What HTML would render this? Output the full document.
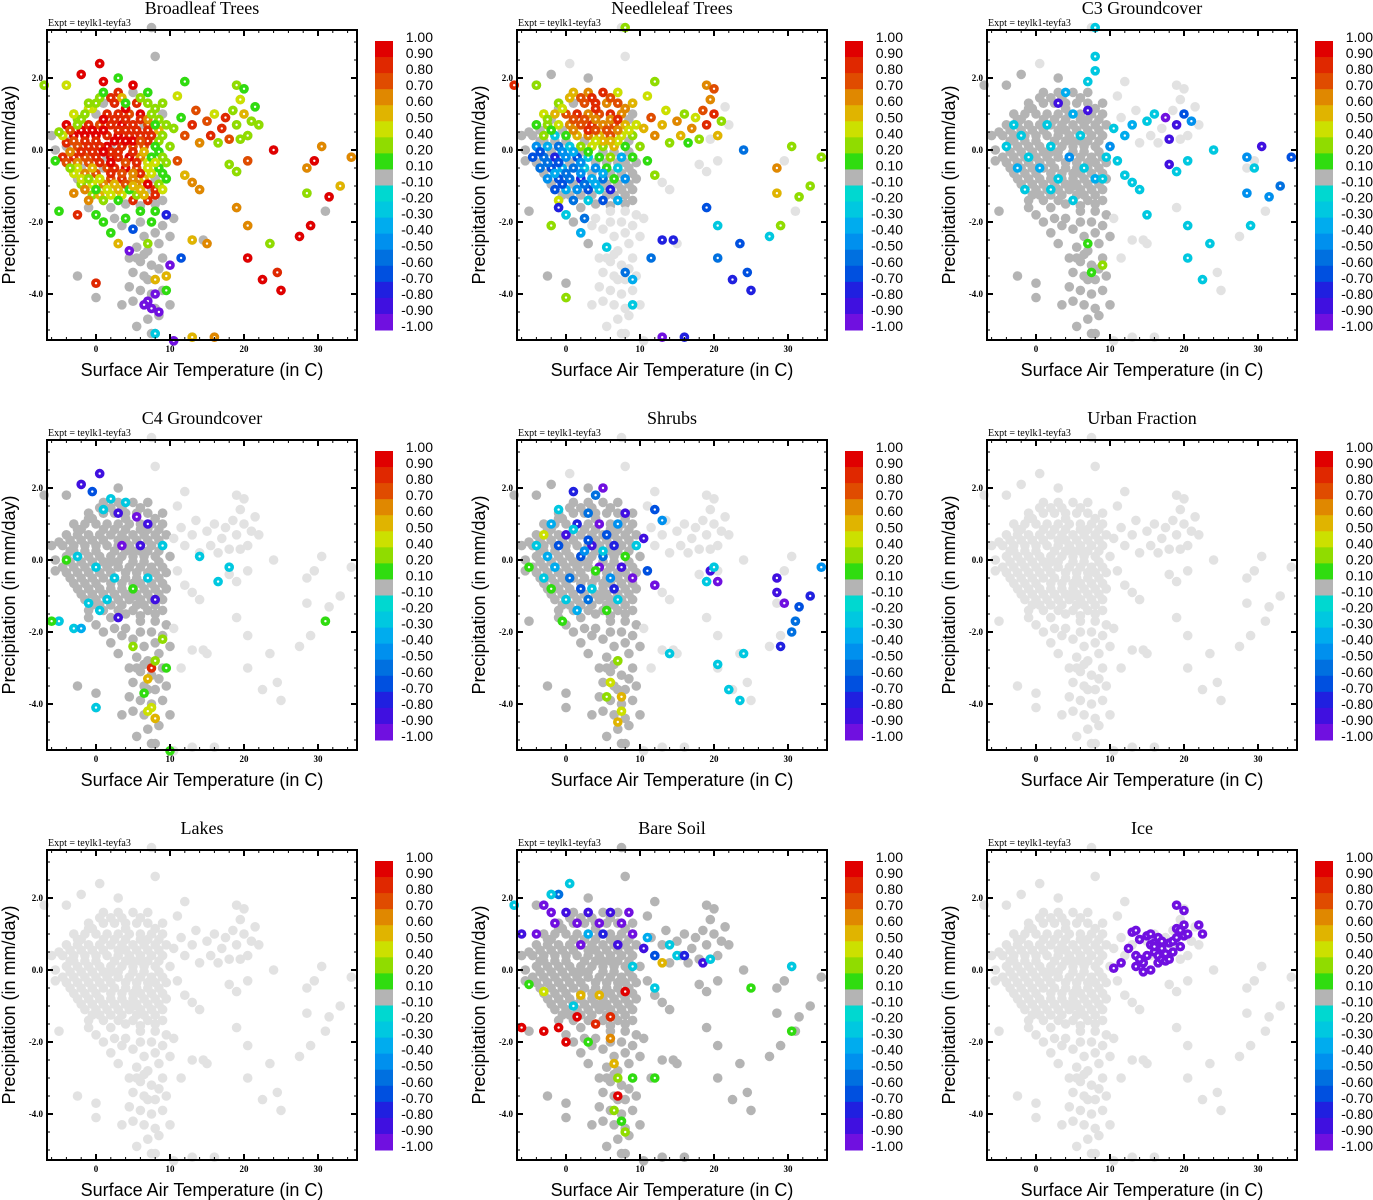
<!DOCTYPE html>
<html><head><meta charset="utf-8"><style>
html,body{margin:0;padding:0;background:#fff;}
svg{display:block;}
.tk{font-family:"Liberation Serif",serif;font-size:9px;font-weight:bold;}
.ttl{font-family:"Liberation Serif",serif;font-size:18px;}
.ax{font-family:"Liberation Sans",sans-serif;font-size:18px;}
.cb{font-family:"Liberation Sans",sans-serif;font-size:14px;}
.ex{font-family:"Liberation Serif",serif;font-size:10px;}
</style></head><body>
<svg id="fig" width="1373" height="1200" viewBox="0 0 1373 1200"></svg>
<script>
const panelTitles=["Broadleaf Trees","Needleleaf Trees","C3 Groundcover","C4 Groundcover","Shrubs","Urban Fraction","Lakes","Bare Soil","Ice"];
const xTickVals=[0,10,20,30];
const xTickLabels=["0","10","20","30"];
const yTickVals=[2,0,-2,-4];
const yTickLabels=["2.0","0.0","-2.0","-4.0"];
const cbLevels=[1,.9,.8,.7,.6,.5,.4,.2,.1,-.1,-.2,-.3,-.4,-.5,-.6,-.7,-.8,-.9,-1];
const cbLabels=["1.00","0.90","0.80","0.70","0.60","0.50","0.40","0.20","0.10","-0.10","-0.20","-0.30","-0.40","-0.50","-0.60","-0.70","-0.80","-0.90","-1.00"];
const cbColors=["#e00000","#e02800","#e04c00","#e08800","#e0b400","#cce000","#90dc00","#30dc10","#b4b4b4","#00d8d0","#00c8e0","#00acee","#0090ee","#0070e0","#0050e0","#2020e0","#4010e0","#7010e0"];
const basePts=[[1,1.6],[3,1.6],[5,1.6],[7,1.6],[-1,1.3],[1,1.3],[2.5,1.3],[4,1.3],[5.5,1.3],[7,1.3],[9,1.3],[-3,1.0],[-1.5,1.0],[0,1.0],[1.5,1.0],[3,1.0],[4.5,1.0],[6,1.0],[7.5,1.0],[9,1.0],[-4,0.7],[-2.5,0.7],[-1,0.7],[0.5,0.7],[2,0.7],[3.5,0.7],[5,0.7],[6.5,0.7],[8,0.7],[9.5,0.7],[-4.5,0.4],[-3,0.4],[-1.5,0.4],[0,0.4],[1.5,0.4],[3,0.4],[4.5,0.4],[6,0.4],[7.5,0.4],[9,0.4],[-4,0.1],[-2.5,0.1],[-1,0.1],[0.5,0.1],[2,0.1],[3.5,0.1],[5,0.1],[6.5,0.1],[8,0.1],[10,0.1],[-4.5,-0.2],[-3,-0.2],[-1.5,-0.2],[0,-0.2],[1.5,-0.2],[3,-0.2],[4.5,-0.2],[6,-0.2],[7.5,-0.2],[9,-0.2],[-3.5,-0.5],[-2,-0.5],[-0.5,-0.5],[1,-0.5],[2.5,-0.5],[4,-0.5],[5.5,-0.5],[7,-0.5],[8.5,-0.5],[-2.5,-0.8],[-1,-0.8],[0.5,-0.8],[2,-0.8],[3.5,-0.8],[5,-0.8],[6.5,-0.8],[8,-0.8],[9.5,-0.8],[-1.5,-1.1],[0,-1.1],[1.5,-1.1],[3,-1.1],[4.5,-1.1],[6,-1.1],[7.5,-1.1],[9,-1.1],[-1,-1.4],[1,-1.4],[3,-1.4],[5,-1.4],[7,-1.4],[9,-1.4],
[2,1.45],[4,1.15],[6,0.85],[1,0.85],[3,0.55],[5,0.25],[2,-0.05],[4,-0.35],[6,-0.65],[1,-0.95],[2.5,0.25],[0.5,-0.35],[3.5,-0.65],[5.5,0.55],[-2,-0.05],[-0.5,0.55],[7,0.25],[8,-0.35],[4,0.85],[2,-1.25],[5,-1.0],[-3.5,0.25],[-2,0.85],[-5,0.5],[-5.5,0.0],
[-0.5,1.15],[0.5,1.45],[3.5,1.45],[6,1.45],[8,1.15],[-2.5,0.85],[-1,1.15],[2.5,0.85],[7,0.85],[8.5,0.85],[-3.5,0.55],[-2,0.55],[1,0.55],[4,0.55],[7,0.55],[8.5,0.55],[-3,0.25],[-1.5,0.25],[0,0.25],[4,0.25],[6,0.25],[8.5,0.25],[-3.5,-0.05],[-0.5,-0.05],[1,-0.05],[3,-0.05],[5,-0.05],[6.5,-0.05],[8.5,-0.05],[-4,-0.35],[-2.5,-0.35],[-1,-0.35],[2,-0.35],[5.5,-0.35],[7,-0.35],[9.5,-0.35],[-3,-0.65],[-1.5,-0.65],[0,-0.65],[2,-0.65],[5,-0.65],[7.5,-0.65],[9,-0.65],[-2,-0.95],[-0.5,-0.95],[2.5,-0.95],[4,-0.95],[5.5,-0.95],[7,-0.95],[8.5,-0.95],[-0.5,-1.25],[0.5,-1.25],[3.5,-1.25],[5.5,-1.25],[6.5,-1.25],[8,-1.25],[4,-1.5],[6,-1.55],[8,-1.5],[2,-1.6],
[6,-1.7],[8,-1.7],[9.5,-1.8],[10.5,-1.9],[7.5,-2.0],[9,-2.1],[5,-2.2],[6.5,-2.4],[8,-2.3],[10,-2.4],[5.5,-2.7],[7,-2.8],[8.5,-2.6],[4.5,-3.0],[6,-3.1],[7.5,-3.2],[9,-3.0],[5,-3.4],[6.5,-3.5],[8,-3.6],[9.5,-3.5],[4.5,-3.8],[6,-3.9],[7.5,-4.0],[9,-3.9],[5,-4.2],[6.5,-4.3],[8,-4.4],[10,-4.3],[7,-4.7],[8.5,-4.6],[5.5,-4.9],[3.5,-4.3],[7.5,-5.1],[0,-1.8],[1,-2.0],[2,-2.3],[3,-2.6],[-1,-1.6],[2.5,-1.9],[-2.5,-3.5],[0,-3.7],[0,-4.1],[-5,-1.7],[3.5,-2.1],[4,-1.9],[6,-2.0],[7,-3.6],[5.5,-3.0],[8.5,-3.3],[6.5,-2.9],
[10.5,0.6],[11.5,0.9],[12,0.4],[13,0.7],[13.5,1.1],[14,0.2],[15,0.8],[15.5,0.4],[16,1.0],[16.5,0.2],[17,0.6],[17.5,0.9],[18,0.3],[18.5,1.1],[19,0.7],[19.5,1.4],[20,1.0],[20.5,0.4],[21,0.8],[21.5,1.2],[22,0.7],[19,1.8],[20,1.7],[18,-0.4],[19,-0.6],[11,-0.3],[12,-0.7],[13,-0.9],[14,-1.1],[11,1.5],[12,1.9],
[24,0.0],[28.5,-0.5],[29.5,-0.3],[30.5,0.1],[33,-1.0],[34.5,-0.2],[31.5,-1.3],[28.5,-1.2],[31,-1.7],[29,-2.1],[27.5,-2.4],[23.5,-2.6],[20.5,-2.1],[19,-1.6],[20.5,-3.0],[22.5,-3.6],[24.5,-3.4],[25,-3.9],[13,-2.5],[15,-2.6],[14.5,-2.5],[11.5,-3.0],[13,-5.2],[16,-5.2],[10.5,-5.3],[8,-5.1],[8,2.6],[7.5,3.4],[3,2.0],[0.5,2.4],[-2,2.1],[-4,1.8],[-7,1.8],[-6,0.4],[-5.5,-0.3],[20.5,-0.3],[19.5,0.3]];
const broadleafPts=[[0,0.4,.95],[1.5,0.4,.85],[3,0.4,.95],[4.5,0.4,.85],[1.5,0.1,.95],[3.5,0.1,.85],[5,0.1,.75],[0.5,0.1,.85],[2,-0.2,.95],[3,-0.2,.85],[4.5,-0.2,.95],[0,-0.2,.85],[1.5,-0.5,.75],[2.5,-0.5,.85],[4,-0.5,.95],[5.5,-0.5,.75],[2,0.7,.85],[3.5,0.7,.95],[5,0.7,.85],[0.5,0.7,.75],[1.5,1.0,.85],[3,1.0,.85],[4.5,1.0,.75],[6,1.0,.95],[2.5,1.3,.85],[5.5,1.3,.85],[-1,0.7,.85],[-1.5,0.4,.95],[-1,0.1,.85],[-2.5,0.1,.75],[-3,0.4,.95],[-4,0.7,.95],[-3,-0.2,.85],[-1.5,-0.2,.75],[6,0.4,.85],[6.5,0.1,.75],[6,-0.2,.65],[7.5,0.4,.85],[7,0.7,.75],[3.5,-0.8,.85],[5,-0.8,.65],[2,-0.8,.75],[6.5,-0.8,.55],[8,-1.1,.85],[7,-1.4,.85],[5,-1.4,.85],[3,1.6,.85],[5,1.8,.95],[1,1.9,.95],[0.5,2.4,.95],[-2,2.1,.95],[-4,0.2,.85],[-4.5,-0.2,.85],[2,1.45,.85],[4,1.15,.95],[6,0.85,.85],[1,0.85,.95],[3,0.55,.85],[5,0.25,.95],[2,-0.05,.85],[4,-0.35,.75],[6,-0.65,.85],[1,-0.95,.65],[2.5,0.25,.95],[0.5,-0.35,.85],[3.5,-0.65,.75],[5.5,0.55,.85],[-2,-0.05,.85],[-0.5,0.55,.95],[7,0.25,.85],[4,0.85,.85],
[2.5,0.85,.85],[1,0.55,.95],[4,0.55,.85],[0,0.25,.85],[4,0.25,.95],[6,0.25,.75],[-0.5,-0.05,.85],[1,-0.05,.95],[3,-0.05,.85],[5,-0.05,.85],[-1,-0.35,.75],[2,-0.35,.95],[5.5,-0.35,.85],[0,-0.65,.75],[2,-0.65,.85],[5,-0.65,.65],[-1.5,0.25,.85],[-3,0.25,.75],[-2.5,-0.35,.65],[3.5,1.45,.55],[-0.5,1.15,.45],[0.5,1.45,.3],[-2.5,0.85,.3],[7,0.85,.65],[8.5,0.85,.3],[-3.5,0.55,.75],[-2,0.55,.95],[7,0.55,.85],[8.5,0.55,.55],[8.5,0.25,.3],[6.5,-0.05,.55],[8.5,-0.05,.15],[-4,-0.35,.75],[7,-0.35,.45],[9.5,-0.35,.3],[-3,-0.65,.45],[-1.5,-0.65,.65],[7.5,-0.65,.45],[9,-0.65,.15],[-2,-0.95,.3],[-0.5,-0.95,.45],[2.5,-0.95,.55],[4,-0.95,.75],[5.5,-0.95,.65],[7,-0.95,.95],[8.5,-0.95,.3],[-0.5,-1.25,.3],[0.5,-1.25,.55],[3.5,-1.25,.45],[5.5,-1.25,.3],[6.5,-1.25,.55],[8,-1.25,.85],[6,1.45,.3],[8,1.15,.3],[-1,1.15,.45],[-3.5,-0.05,.65],
[-3,1.0,.45],[-1.5,1.0,.3],[0,1.3,.3],[1,1.6,.15],[7,1.6,.15],[7.5,1.0,.3],[9,1.3,.3],[8,0.7,.15],[9.5,0.7,.3],[9,0.4,.3],[8,0.1,.15],[10,0.1,.3],[7.5,-0.2,.15],[9,-0.2,.3],[7,-0.5,.45],[8.5,-0.5,.15],[9.5,-0.8,.15],[-2.5,-0.5,.45],[-3.5,-0.5,.3],[-2,-0.8,.45],[-1,-0.8,.3],[0.5,-0.8,.45],[-0.5,-0.5,.55],[0,-1.1,.15],[1.5,-1.1,.45],[3,-1.1,.55],[4.5,-1.1,.15],[6,-1.1,.55],[-1,-1.4,.65],[1,-1.4,.3],[3,-1.4,.15],[9,-1.1,.45],[-1.5,-1.1,.6],[-4,1.8,.45],[-7,1.8,.3],[3,2.0,.15],[-5,-1.7,.15],[-5.5,-0.3,.15],[-2.5,0.7,.3],[-4.5,0.4,.45],[-1,1.3,.3],[4,1.3,.15],[7,1.3,.3],[2,-1.25,.45],[5,-1.0,.55],[8,-0.35,.45],[-2,0.85,.3],[-5,0.5,.3],
[10.5,0.6,.3],[11.5,0.9,.15],[12,0.4,.75],[13,0.7,.85],[13.5,1.1,.75],[14,0.2,.65],[15,0.8,.75],[15.5,0.4,.85],[16,1.0,.45],[16.5,0.2,.3],[17,0.6,.85],[17.5,0.9,.85],[18,0.3,.75],[18.5,1.1,.3],[19,0.7,.3],[19.5,1.4,.45],[20,1.0,.55],[20.5,0.4,.3],[21,0.8,.3],[21.5,1.2,.15],[22,0.7,.3],[19,1.8,.3],[20,1.7,.15],[18,-0.4,.3],[19,-0.6,.3],[11,1.5,.45],[12,1.9,.15],[11,-0.3,.75],[12,-0.7,.55],[13,-0.9,.65],[14,-1.1,.65],[20.5,-0.3,.75],[19.5,0.3,.3],
[24,0.0,.95],[28.5,-0.5,.65],[29.5,-0.3,.95],[30.5,0.1,.65],[33,-1.0,.55],[34.5,-0.2,.65],[31.5,-1.3,.95],[28.5,-1.2,.3],[29,-2.1,.95],[27.5,-2.4,.95],[23.5,-2.6,.3],[20.5,-2.1,.65],[19,-1.6,.65],[20.5,-3.0,.95],[22.5,-3.6,.95],[24.5,-3.4,.85],[25,-3.9,.95],[13,-2.5,.55],[15,-2.6,.65],[13,-5.2,.55],[16,-5.2,.65],[10.5,-5.3,-.95],[8,-5.1,-.25],
[7,-4.2,-.95],[7.5,-4.4,-.95],[8.5,-4.5,-.95],[6.5,-4.3,-.95],[8,-4.0,-.95],[9.5,-3.5,.55],[8,-3.6,.55],[9.5,-3.9,.15],[10,-3.2,-.95],[11.5,-3.0,-.65],[5,-2.2,-.65],[4.5,-2.8,-.95],[7,-2.6,.3],[7.5,-2.0,.15],[2,-2.3,.15],[0,-1.8,.15],[1,-2.0,.15],[3,-2.6,.55],[0,-3.7,.85],[6,-1.7,.15],[8,-1.7,.15],[9.5,-1.8,-.75],[4,-1.9,.15],[-2.5,-1.8,.85],[-3,-1.2,.65]];
const needleleafPts=[[0,1.0,.75],[1.5,1.0,.85],[3,1.0,.65],[4.5,1.0,.75],[6,1.0,.85],[7.5,1.0,.65],[9,1.3,.55],[2.5,1.3,.75],[4,1.3,.85],[5.5,1.3,.65],[7,1.3,.75],[1,1.6,.55],[3,1.6,.65],[5,1.6,.85],[7,1.6,.45],[0.5,0.7,.65],[2,0.7,.75],[3.5,0.7,.85],[5,0.7,.65],[6.5,0.7,.75],[8,0.7,.55],[9.5,0.7,.45],[1.5,0.4,.55],[3,0.4,.65],[4.5,0.4,.55],[6,0.4,.75],[7.5,0.4,.45],[9,0.4,.3],[-1,0.7,.45],[-2.5,0.7,.3],[-1.5,1.0,.55],[-3,1.0,.45],[-1,1.3,.3],[-4,0.7,.15],[3.5,0.1,.45],[5,0.1,.3],[6.5,0.1,.55],[8,0.1,.15],[10,0.1,.3],[2,0.1,.3],[0.5,0.1,-.25],[-1,0.1,-.55],[-2.5,0.1,-.35],[-4,0.1,-.45],[-3,0.4,.3],[-1.5,0.4,-.25],[0,0.4,.15],[-4.5,-0.2,-.65],[-3,-0.2,-.55],[-1.5,-0.2,-.75],[0,-0.2,-.45],[1.5,-0.2,-.65],[3,-0.2,-.25],[4.5,-0.2,.15],[6,-0.2,.3],[7.5,-0.2,-.35],[9,-0.2,.15],[-3.5,-0.5,-.55],[-2,-0.5,-.65],[-0.5,-0.5,-.35],[1,-0.5,-.55],[2.5,-0.5,-.25],[4,-0.5,-.45],[5.5,-0.5,.15],[7,-0.5,-.25],[-2.5,-0.8,-.45],[-1,-0.8,-.65],[0.5,-0.8,-.55],[2,-0.8,-.75],[3.5,-0.8,-.35],[5,-0.8,-.55],[6.5,-0.8,.15],[8,-0.8,-.45],[-1.5,-1.1,-.65],[0,-1.1,-.35],[1.5,-1.1,-.45],[3,-1.1,-.65],[4.5,-1.1,-.25],[6,-1.1,-.75],[-1,-1.4,.45],[1,-1.4,-.55],[3,-1.4,-.25],[5,-1.4,-.65],[7,-1.4,-.35],[2,1.45,.75],[4,1.15,.85],[6,0.85,.65],[1,0.85,.75],[3,0.55,.85],[5,0.25,.55],[5.5,0.55,.75],[4,0.85,.65],[7,0.25,.45],
[2.5,0.85,.75],[1,0.55,.65],[4,0.55,.75],[7,0.55,.65],[7,0.85,.85],[3.5,1.45,.85],[6,1.45,.75],[8,1.15,.65],[0.5,1.45,.55],[-0.5,1.15,.45],[-2.5,0.85,.3],[-2,0.55,.15],[8.5,0.55,.45],[4,0.25,.45],[6,0.25,.55],[-0.5,-0.05,-.45],[1,-0.05,-.35],[3,-0.05,.15],[-3.5,-0.05,-.65],[-2.5,-0.35,-.55],[-1,-0.35,-.65],[2,-0.35,-.45],[-1.5,-0.65,-.35],[0,-0.65,-.55],[2,-0.65,-.45],[5,-0.65,-.35],[-0.5,-0.95,-.65],[2.5,-0.95,-.55],[4,-0.95,-.35],
[10.5,0.6,.55],[11.5,0.9,.75],[12,0.4,.65],[13,0.7,.55],[13.5,1.1,.45],[14,0.2,.3],[15,0.8,.65],[15.5,0.4,.55],[16,1.0,.3],[16.5,0.2,.15],[17,0.6,.65],[17.5,0.9,.45],[18,0.3,.3],[18.5,1.1,.75],[19,0.7,.85],[19.5,1.4,.65],[20,1.0,.85],[20.5,0.4,.55],[21,0.8,.3],[19,1.8,.65],[20,1.7,.75],[11,1.5,.45],[12,1.9,.3],[11,-0.3,.15],[12,-0.7,.3],[19,-1.6,-.65],[20.5,-2.1,-.25],
[24,0.0,-.55],[28.5,-0.5,.65],[30.5,0.1,.3],[34.5,-0.2,.3],[33,-1.0,.3],[31.5,-1.3,.3],[28.5,-1.2,.55],[29,-2.1,.3],[27.5,-2.4,-.25],[23.5,-2.6,-.65],[22.5,-3.6,-.75],[24.5,-3.4,-.65],[25,-3.9,-.75],[20.5,-3.0,-.55],[13,-2.5,-.75],[14.5,-2.5,-.75],[11.5,-3.0,-.55],[8,-3.4,-.55],[9,-3.6,-.35],[9,-4.3,-.25],[13,-5.2,-.95],[16,-5.2,-.75],[-7,1.8,.85],[-4,1.8,.3],[8,3.4,.3],[-2,-2.1,.3],[-1,-1.6,-.75],[0,-4.1,.3],[2,-2.3,-.35],[0,-1.8,-.25],[2.5,-1.9,-.55],[5.5,-2.7,-.25]];
const c3Pts=[[-3,0.7,-.25],[-2,0.4,-.25],[-4,0.1,-.25],[-1,-0.2,-.25],[0.5,-0.5,-.35],[2,0.1,-.25],[3,-0.8,-.25],[4.5,-0.2,-.45],[6,0.4,-.25],[5,1.0,-.35],[3,1.3,-.85],[4,1.6,-.35],[7,1.9,-.25],[8,2.2,-.25],[7,1.1,-.85],[6.5,-0.5,-.25],[8,-0.8,-.35],[9.5,-0.2,-.25],[10,0.1,-.45],[5,-1.4,-.25],[2,-1.1,-.25],[-1.5,-1.1,-.25],[-2.5,-0.5,-.35],[9,-0.8,-.25],[1.5,0.7,-.25],
[10.5,0.6,-.25],[12,0.4,-.35],[13,0.7,-.35],[15,0.8,-.25],[16,1.0,-.25],[18,0.3,-.85],[19,0.7,-.85],[17.5,0.9,-.95],[20,1.0,-.65],[19,-0.6,-.25],[18,-0.4,-.85],[21,0.8,-.45],[11,-0.3,-.25],[12,-0.7,-.25],[13,-0.9,-.25],[14,-1.1,-.25],[20.5,-0.3,-.25],[8,3.4,-.25],[8,2.6,-.25],
[24,0.0,-.25],[28.5,-0.2,-.45],[29.5,-0.5,-.25],[30.5,0.1,-.85],[34.5,-0.2,-.65],[33,-1.0,-.55],[31.5,-1.3,-.45],[28.5,-1.2,-.45],[29,-2.1,-.25],[23.5,-2.6,-.25],[20.5,-3.0,-.25],[22.5,-3.6,-.25],[15,-1.8,-.25],[20.5,-2.1,-.25],
[7,-2.6,.15],[7.5,-3.4,.15],[9,-3.2,.3]];
const c4Pts=[[-2,2.1,-.85],[0.5,2.4,-.85],[-0.5,1.9,-.65],[2,1.7,-.25],[4,1.6,-.25],[3,1.3,-.85],[5.5,1.2,-.95],[7,1.0,-.85],[1,1.4,-.25],[3.5,0.4,-.95],[6,0.4,-.85],[9,0.4,-.25],[-4,0.0,.15],[-2.5,0.1,-.25],[0,-0.2,-.25],[2.5,-0.5,-.25],[5,-0.8,.15],[7,-0.5,-.25],[8,-1.1,-.85],[1.5,-1.1,-.25],[-1,-1.2,-.25],[0.5,-1.4,-.25],[3,-1.6,-.85],[-3,-1.9,-.25],[-2,-1.9,-.35],[-5,-1.7,-.25],[0,-4.1,-.25],[16.5,-0.6,-.25],[14,0.1,-.25],[18,-0.2,-.25],[31,-1.7,.15],
[7.5,-3.0,.85],[7,-3.3,.55],[6.5,-3.7,.15],[7.5,-4.1,.45],[8,-4.4,.55],[7,-4.2,.45],[8,-2.8,.3],[9,-2.2,.3],[9.5,-3.0,.15],[5,-2.4,.3],[10,-5.3,.15],[-6,-1.7,.15]];
const shrubsPts=[[-5,-0.2,.15],[-4,0.4,-.25],[-3,0.7,.45],[-2.5,0.1,-.35],[-1,0.4,-.65],[0,0.7,-.85],[1.5,1.0,-.75],[3,1.3,-.55],[4.5,1.0,-.95],[5.5,0.7,-.65],[7,1.0,-.45],[8,1.3,-.85],[2,0.1,-.65],[3.5,0.4,-.85],[5,0.1,-.55],[6.5,0.4,-.75],[8,0.1,.15],[9.5,0.4,-.25],[-1.5,-0.2,-.35],[0.5,-0.5,-.55],[2,-0.8,-.65],[3.5,-0.8,-.25],[4.5,-0.2,-.95],[6,-0.5,-.45],[7.5,-0.2,-.85],[9,-0.5,-.95],[-3,-0.5,-.25],[-2,-0.8,.15],[0,-1.1,-.25],[1.5,-1.4,-.35],[3,-1.1,-.55],[5.5,-1.4,.15],[7,-1.1,-.25],[1,1.9,-.75],[4,1.8,-.55],[5,2.0,-.95],[-1,1.4,-.25],[-2,1.0,-.35],[6.5,-0.8,-.75],[4,-0.3,.15],[2.5,0.25,-.45],[1,0.85,-.25],[3,0.55,-.65],[5,0.25,-.3],
[10.5,0.6,-.85],[12,1.4,-.65],[13,1.1,-.45],[11,-0.3,-.65],[12,-0.7,-.95],[19.5,-0.3,-.85],[20.5,-0.6,-.95],[20,-0.2,-.25],[19,-0.6,-.25],
[28.5,-0.5,-.85],[28.5,-0.9,-.85],[29.5,-1.2,-.95],[31,-1.7,-.55],[31.5,-1.3,-.65],[33,-1.0,-.75],[34.5,-0.2,-.45],[30.5,-2.0,-.55],[29,-2.4,-.75],[20.5,-2.9,-.25],[22,-3.6,-.25],[23.5,-3.9,-.25],[24,-2.6,-.25],[14,-2.6,-.25],
[7,-2.8,.3],[6,-3.4,.45],[7.5,-3.8,.55],[7.5,-4.2,.45],[7,-4.5,.55],[5.5,-3.8,.3],[-0.5,-1.7,.15]];
const urbanPts=[];
const lakesPts=[];
const bareSoilPts=[[-3,1.8,-.95],[-2,1.6,-.95],[-1.5,1.3,-.95],[0,1.6,-.85],[1.5,1.3,-.95],[3,1.6,-.85],[4.5,1.3,-.95],[6,1.6,-.85],[7.5,1.3,-.95],[9,1.0,-.95],[5,1.0,-.75],[3,1.0,-.35],[-4,1.0,-.95],[-1,2.1,-.55],[0.5,2.4,-.25],[-2,2.1,-.25],[-7,1.8,-.25],[-6,1.0,-.85],[2,0.7,-.95],[7,0.7,-.85],[8.5,1.6,-.95],[10.5,0.6,-.85],[11,0.9,-.35],[12,0.4,-.65],[14,0.7,-.25],[13,0.2,.55],[15,0.4,-.25],[16,0.4,-.75],[18.5,0.2,-.85],[19.5,0.3,-.25],[12,-0.5,-.25],[9,0.1,-.25],
[-6,-1.6,.95],[-3,-1.7,.95],[-1,-1.6,.95],[1.5,-1.3,.95],[4,-1.5,.85],[6,-1.3,.85],[8,-0.6,.95],[4.5,-0.7,.55],[2,-0.7,.55],[0,-2.0,.95],[1,-1.0,-.25],
[3,-2.0,.15],[6,-1.9,.65],[6.5,-2.6,.55],[7,-3.0,.3],[7,-3.5,.95],[6.5,-3.9,.3],[7.5,-4.2,.15],[8,-4.5,.3],[9,-3.0,.15],[12,-3.0,.15],[-5,-0.4,.15],[-3,-0.6,.45],[30.5,-1.7,.15],[30.5,0.1,-.25],[25,-0.5,.15]];
const icePts=[[10.5,0.05,-.95],[11.5,0.2,-.95],[12.5,0.6,-.95],[13,1.05,-.95],[13.5,1.1,-.95],[13.5,0.4,-.95],[13.5,0.1,-.95],[14,0.85,-.95],[14.5,0.2,-.95],[14.5,-0.05,-.95],[15,0.95,-.95],[15,0.4,-.95],[15.5,0.7,-.95],[15.5,1.0,-.95],[15.5,0.0,-.95],[16,0.5,-.95],[16,0.75,-.95],[16.5,0.4,-.95],[16.5,0.2,-.95],[16.5,0.9,-.95],[17,0.6,-.95],[17,0.3,-.95],[17.5,0.45,-.95],[17.5,0.25,-.95],[18,0.75,-.95],[18,0.3,-.95],[18.5,0.5,-.95],[18.5,0.8,-.95],[19,0.9,-.95],[19,1.15,-.95],[19.5,0.65,-.95],[19.5,1.1,-.95],[19,1.8,-.95],[20,1.65,-.95],[20,0.95,-.95],[20,1.25,-.95],[20.5,1.0,-.95],[22,1.25,-.95],[22.5,1.0,-.95],[16,0.65,-.95],[17,0.8,-.95],[14,0.3,-.95]];
const panelData=[broadleafPts,needleleafPts,c3Pts,c4Pts,shrubsPts,urbanPts,lakesPts,bareSoilPts,icePts];
const panelLight=[[],["tail","arm","sparse"],["arm","sparse"],["arm","sparse"],["arm","sparse"],["core","tail","arm","sparse"],["core","tail","arm","sparse"],[],["core","tail","arm","sparse"]];

const NS="http://www.w3.org/2000/svg";
const svg=document.getElementById('fig');
function mk(tag,attrs,parent){const e=document.createElementNS(NS,tag);for(const k in attrs)e.setAttribute(k,attrs[k]);(parent||svg).appendChild(e);return e;}
function colorFor(v){for(let i=0;i<cbColors.length;i++){if(v<=cbLevels[i]&&v>=cbLevels[i+1])return cbColors[i];}return cbColors[cbColors.length-1];}
function region(t,p){if(t>=22||(t>=10.5&&p<-1.5)||p>2.3)return "sparse";if(t>=10.5)return "arm";if(p<-1.6&&t>3)return "tail";return "core";}

panelTitles.forEach((title,idx)=>{
  const ox=(idx%3)*470, oy=Math.floor(idx/3)*410;
  const X0=ox+47,X1=ox+357,Y0=oy+30,Y1=oy+340;
  const sx=t=>ox+96+t*7.4, sy=p=>oy+150-p*36;
  const g=mk('g',{});
  
  
  const tt=mk('text',{x:ox+202,y:oy+14,'text-anchor':'middle',class:'ttl'},g);tt.textContent=title;
  
  
  const ex=mk('text',{x:X0+1,y:oy+26,class:'ex'},g);ex.textContent="Expt = teylk1-teyfa3";
  
  
  const pts=mk('g',{},g);
  
  
  const light=panelLight[idx];
  basePts.forEach(([t,p])=>{
    const c=light.includes(region(t,p))?"#e2e2e2":"#b4b4b4";
    const cc=mk('circle',{cx:sx(t),cy:sy(p),r:4.8,fill:c},pts);
    
    
  });
  panelData[idx].forEach(([t,p,v])=>{
    const cc=mk('circle',{cx:sx(t),cy:sy(p),r:4.8,fill:colorFor(v)},pts);
    
    
    mk('circle',{cx:sx(t),cy:sy(p),r:1.2,fill:'#fff'},pts);
  });
  const fr=mk('rect',{x:X0,y:Y0,width:X1-X0,height:Y1-Y0,fill:'none',stroke:'#000','stroke-width':2},g);
  
  
  for(let t=-6;t<=34;t+=2){mk('line',{x1:sx(t),x2:sx(t),y1:Y1,y2:Y1-3,stroke:'#000','stroke-width':1},g);mk('line',{x1:sx(t),x2:sx(t),y1:Y0,y2:Y0+3,stroke:'#000','stroke-width':1},g);}
  for(let p=-5;p<=3;p+=0.5){mk('line',{x1:X0,x2:X0+3,y1:sy(p),y2:sy(p),stroke:'#000','stroke-width':1},g);mk('line',{x1:X1,x2:X1-3,y1:sy(p),y2:sy(p),stroke:'#000','stroke-width':1},g);}
  xTickVals.forEach((t,i)=>{
    mk('line',{x1:sx(t),x2:sx(t),y1:Y1,y2:Y1-6,stroke:'#000','stroke-width':2},g);
    mk('line',{x1:sx(t),x2:sx(t),y1:Y0,y2:Y0+6,stroke:'#000','stroke-width':2},g);
    const l=mk('text',{x:sx(t),y:Y1+12,'text-anchor':'middle',class:'tk'},g);l.textContent=xTickLabels[i];
    
    
  });
  yTickVals.forEach((p,i)=>{
    mk('line',{x1:X0,x2:X0+6,y1:sy(p),y2:sy(p),stroke:'#000','stroke-width':2},g);
    mk('line',{x1:X1,x2:X1-6,y1:sy(p),y2:sy(p),stroke:'#000','stroke-width':2},g);
    const l=mk('text',{x:X0-4,y:sy(p)+3,'text-anchor':'end',class:'tk'},g);l.textContent=yTickLabels[i];
    
    
  });
  const xt=mk('text',{x:ox+202,y:oy+376,'text-anchor':'middle',class:'ax'},g);xt.textContent="Surface Air Temperature (in C)";
  
  
  const yt=mk('text',{x:0,y:0,'text-anchor':'middle',class:'ax',transform:`translate(${ox+15},${oy+185}) rotate(-90)`},g);yt.textContent="Precipitation (in mm/day)";
  
  
  const cb=mk('g',{},g);
  
  
  const bh=(330-41)/cbColors.length;
  cbColors.forEach((c,i)=>{const r=mk('rect',{x:ox+375,y:oy+41+i*bh,width:18,height:bh+0.5,fill:c},cb);
    
    });
  cbLabels.forEach((s,i)=>{const l=mk('text',{x:ox+433,y:oy+42+i*bh,'text-anchor':'end',class:'cb'},cb);l.textContent=s;
    
    });
});
</script>
</body></html>
